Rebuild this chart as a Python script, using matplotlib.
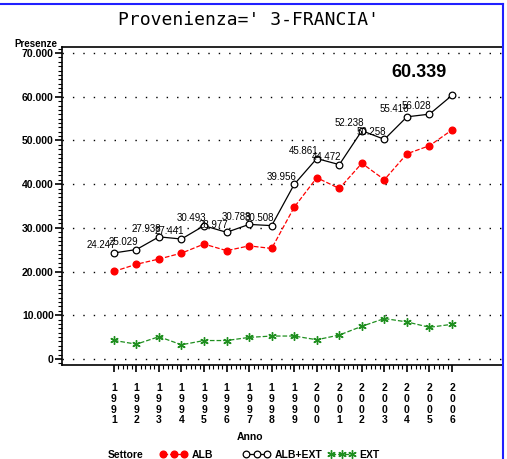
import matplotlib
matplotlib.use('Agg')
import matplotlib.pyplot as plt
import numpy as np
from matplotlib.lines import Line2D
from matplotlib.ticker import FuncFormatter, MultipleLocator, FixedLocator

years = [1991, 1992, 1993, 1994, 1995, 1996, 1997, 1998,
         1999, 2000, 2001, 2002, 2003, 2004, 2005, 2006]
alb_ext = [24247, 25029, 27938, 27441, 30493, 28977, 30788, 30508,
           39956, 45861, 44472, 52238, 50258, 55416, 56028, 60339]
ext = [4230, 3370, 5080, 3230, 4200, 4200, 4920, 5230,
       5230, 4380, 5460, 7460, 9240, 8460, 7230, 7920]
alb = [20020, 21660, 22860, 24210, 26290, 24780, 25870, 25280,
       34730, 41480, 39010, 44780, 41020, 46960, 48800, 52420]

narrow = ['Liberation Sans Narrow', 'Liberation Sans', 'DejaVu Sans']

fig = plt.figure(figsize=(5.07, 4.59), dpi=100)
ax = fig.add_axes([62/507, 1-365/459, 441/507, 318/459])

green = '#1f8f1f'
ax.plot(years, alb, color='red', ls='--', lw=0.9, marker='o', ms=4.8,
        mfc='red', mec='red', label='ALB')
ax.plot(years, alb_ext, color='black', ls='-', lw=0.9, marker='o', ms=4.8,
        mfc='white', mec='black', mew=0.9, label='ALB+EXT')
ax.plot(years, ext, color=green, ls='--', lw=0.9, marker=(6, 2, 0), ms=6,
        mec=green, mew=1.0, label='EXT')

for x, v in zip(years[:-1], alb_ext[:-1]):
    ax.annotate(f"{v/1000:.3f}", (x, v), xytext=(1.5, 2), textcoords='offset points',
                ha='right', va='bottom', fontsize=7, family=['Liberation Sans', 'DejaVu Sans'])
ax.annotate(f"{alb_ext[-1]/1000:.3f}", (years[-1], alb_ext[-1]), xytext=(-4, 10),
            textcoords='offset points', ha='right', va='bottom', fontsize=13,
            fontweight='bold', family=narrow)

ax.set_xlim(1988.7, 2008.26)
ax.set_ylim(-1400, 71400)
ax.yaxis.set_major_locator(MultipleLocator(10000))
ax.yaxis.set_minor_locator(MultipleLocator(1000))
ax.yaxis.set_major_formatter(FuncFormatter(lambda v, p: f"{int(v):,}".replace(',', '.')))
ax.set_xticks(years)
ax.set_xticklabels(['\n'.join(str(y)) for y in years], family=narrow, fontsize=7.5,
                   fontweight='bold', linespacing=1.1)
ax.xaxis.set_minor_locator(FixedLocator(np.arange(years[0], years[-1] + 0.01, 0.2)))
for lab in ax.get_yticklabels():
    lab.set_family(narrow)
    lab.set_fontweight('bold')
    lab.set_fontsize(7.5)
ax.tick_params(axis='both', which='major', length=5, width=1.2, direction='out', pad=1)
ax.tick_params(axis='both', which='minor', length=3, width=0.8, direction='out')
ax.tick_params(axis='x', which='major', pad=8)

ax.grid(axis='y', which='major', color='black', ls=(0, (1, 6.5)), lw=1.0)
ax.spines['right'].set_visible(False)
for s in ['left', 'bottom', 'top']:
    ax.spines[s].set_linewidth(1.2)

fig.text(0.49, 1-20/459, "Provenienza=' 3-FRANCIA'", ha='center', va='center',
         fontsize=13, family='DejaVu Sans Mono')
fig.text(57/507, 1-44/459, "Presenze", ha='right', va='center', fontsize=7,
         fontweight='bold', family=narrow)
fig.text(250/507, 1-437/459, "Anno", ha='center', va='center', fontsize=7.5,
         fontweight='bold', family=narrow)
fig.text(108/507, 1-455/459, "Settore", ha='left', va='center', fontsize=7.5,
         fontweight='bold', family=narrow)

# legend entries placed at the reference's slots
handles, labels = ax.get_legend_handles_labels()
for h, l, x0 in zip(handles, labels, [160, 243, 328]):
    leg = fig.legend([h], [l], loc='center left', bbox_to_anchor=(x0/507, 1-455/459),
                     frameon=False, numpoints=3, handlelength=2.6, handletextpad=0.4,
                     borderpad=0, borderaxespad=0,
                     prop={'family': narrow, 'size': 7.5, 'weight': 'bold'})

# blue frame
fig.add_artist(Line2D([0, 503/507], [1-4/459, 1-4/459], color='#2020ff', lw=1.5,
                      transform=fig.transFigure))
fig.add_artist(Line2D([503/507, 503/507], [0, 1-4/459], color='#2020ff', lw=1.5,
                      transform=fig.transFigure))

fig.savefig('out.png', dpi=100)
